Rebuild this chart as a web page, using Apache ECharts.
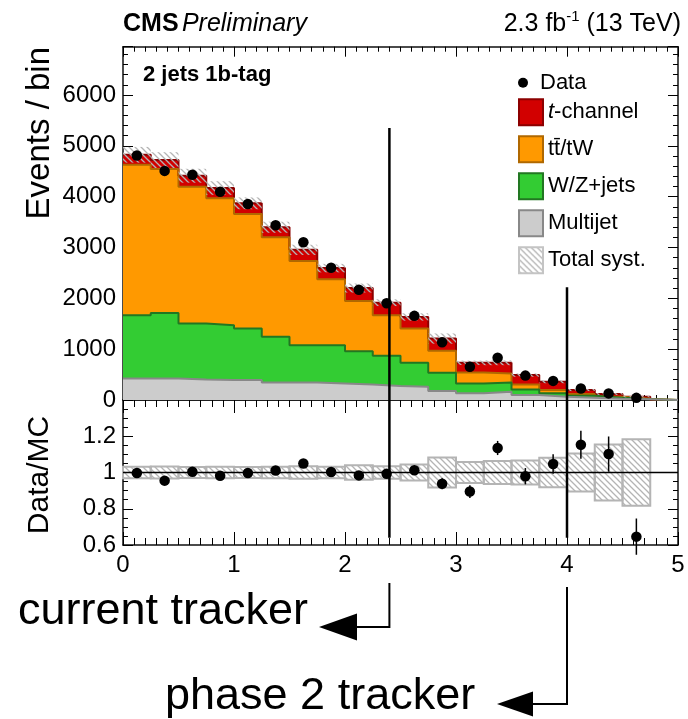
<!DOCTYPE html>
<html>
<head>
<meta charset="utf-8">
<script src="https://cdn.jsdelivr.net/npm/echarts@6/dist/echarts.min.js"></script>
<style>
  html, body { margin: 0; padding: 0; background: #fff; }
  #chart { width: 688px; height: 719px; }
</style>
</head>
<body>
<div id="chart"></div>
<script>
// |eta(j')| distribution, 2 jets 1 b-tag category, with Data/MC ratio below.
const FONT = '"Liberation Sans", Arial, Helvetica, sans-serif';

// Lower bin edges (the last entry closes the final filled bin)
const binEdges = [0.00, 0.25, 0.50, 0.75, 1.00, 1.25, 1.50, 1.75, 2.00, 2.25,
                  2.50, 2.75, 3.00, 3.25, 3.50, 3.75, 4.00, 4.25, 4.50, 4.75];

// Expected events per bin for each process
const multijet = [425, 425, 405, 392, 392, 346, 342, 327, 307, 275,
                  261, 176, 131, 163, 98, 65, 46, 26, 13];
const wzJets   = [1242, 1287, 1098, 1079, 1013, 896, 736, 751, 654, 594,
                  471, 360, 196, 183, 111, 66, 39, 20, 3];
const ttbarTW  = [2960, 2831, 2693, 2496, 2255, 1961, 1654, 1295, 987, 798,
                  673, 431, 215, 177, 98, 65, 33, 19, 10];
const tChannel = [197, 176, 216, 203, 209, 196, 222, 222, 255, 248,
                  229, 242, 190, 209, 183, 163, 78, 53, 39];

// Observed events per bin
const dataCounts = [4810, 4507, 4430, 4095, 3857, 3436, 3102, 2603, 2168, 1902,
                    1655, 1134, 655, 831, 480, 376, 226, 130, 42];

// Relative total systematic uncertainty per bin
const systRel = [0.032, 0.033, 0.031, 0.032, 0.030, 0.032, 0.034, 0.032, 0.040, 0.035,
                 0.044, 0.083, 0.058, 0.064, 0.066, 0.081, 0.105, 0.154, 0.184];

// Statistical uncertainty on Data/MC per bin
const ratioErr = [0.015, 0.015, 0.015, 0.016, 0.016, 0.017, 0.019, 0.020, 0.021, 0.023,
                  0.025, 0.030, 0.035, 0.039, 0.045, 0.054, 0.077, 0.097, 0.100];

// Tracker acceptance boundaries in |eta|
const currentTrackerEta = 2.4;
const phase2TrackerEta = 4.0;

const legendNames = ['t-channel', 'tt\u0304/tW', 'W/Z+jets', 'Multijet', 'Total syst.'];

const nBins = dataCounts.length;
const binHigh = i => (i + 1 < binEdges.length ? binEdges[i + 1] : binEdges[i] + 0.25);
const binMid = i => (binEdges[i] + binHigh(i)) / 2;

// Running sums for the stacked histogram (bottom to top)
const cumMultijet = multijet.slice();
const cumWZ = cumMultijet.map((v, i) => v + wzJets[i]);
const cumTT = cumWZ.map((v, i) => v + ttbarTW[i]);
const cumTop = cumTT.map((v, i) => v + tChannel[i]);
const mcTotal = cumTop;

// Diagonal hatching used for the systematic band
function makeHatch(color) {
  const c = document.createElement('canvas');
  c.width = 6; c.height = 6;
  const g = c.getContext('2d');
  g.strokeStyle = color;
  g.lineWidth = 1.3;
  g.beginPath();
  g.moveTo(-1, -1); g.lineTo(7, 7);
  g.moveTo(-1, 5); g.lineTo(1, 7);
  g.moveTo(5, -1); g.lineTo(7, 1);
  g.stroke();
  return { image: c, repeat: 'repeat' };
}
const hatchFill = makeHatch('#b4b4b4');

function stepData(vals) {
  const pts = vals.map((v, i) => [binEdges[i], v]);
  pts.push([binHigh(nBins - 1), 0]);
  pts.push([5, 0]);
  return pts;
}

// Each layer is filled down to zero; higher layers are drawn first
function layerSeries(name, cumVals, fill, edge, z) {
  return {
    type: 'line', name, step: 'end',
    xAxisIndex: 0, yAxisIndex: 0, z,
    symbol: 'none', silent: true,
    lineStyle: { color: edge, width: 2 },
    areaStyle: { color: fill, opacity: 1, origin: 'start' },
    data: stepData(cumVals)
  };
}

function boxRender(stroke) {
  return (params, api) => {
    const a = api.coord([api.value(0), api.value(3)]);
    const b = api.coord([api.value(1), api.value(2)]);
    const style = { fill: hatchFill };
    if (stroke) { style.stroke = stroke; style.lineWidth = 2; }
    return {
      type: 'rect',
      shape: { x: a[0], y: a[1], width: b[0] - a[0], height: b[1] - a[1] },
      style
    };
  };
}

const tickStyle = { color: '#000', width: 1 };
function xAxisDef(gridIndex, position, showLabels, major, minor) {
  return {
    type: 'value', gridIndex, position, min: 0, max: 5, interval: 1,
    axisLine: { show: true, onZero: false, lineStyle: { color: '#111', width: 1.5 } },
    axisTick: { show: true, inside: true, length: major, lineStyle: tickStyle },
    minorTick: { show: true, splitNumber: 10, length: minor, lineStyle: tickStyle },
    splitLine: { show: false }, minorSplitLine: { show: false },
    axisLabel: { show: showLabels, color: '#000', fontFamily: FONT, fontSize: 24, margin: 8,
                 formatter: v => String(v) }
  };
}
function yAxisDef(gridIndex, position, showLabels, min, max, interval, minorSplit) {
  return {
    type: 'value', gridIndex, position, min, max, interval,
    axisLine: { show: true, onZero: false, lineStyle: { color: '#111', width: 1.5 } },
    axisTick: { show: true, inside: true, length: 10, lineStyle: tickStyle },
    minorTick: { show: true, splitNumber: minorSplit, length: 5, lineStyle: tickStyle },
    splitLine: { show: false }, minorSplitLine: { show: false },
    axisLabel: { show: showLabels, showMaxLabel: false, color: '#000', fontFamily: FONT, fontSize: 24, margin: 7,
                 formatter: v => String(+v.toFixed(2)) }
  };
}

const chart = echarts.init(document.getElementById('chart'), null, { renderer: 'canvas' });

const option = {
  animation: false,
  backgroundColor: '#fff',
  textStyle: { fontFamily: FONT },
  grid: [
    { left: 123, top: 46.7, width: 555, height: 353.3, outerBoundsMode: 'none' },
    { left: 123, top: 400, width: 555, height: 145, outerBoundsMode: 'none' }
  ],
  xAxis: [
    xAxisDef(0, 'bottom', false, 10, 5),
    xAxisDef(0, 'top', false, 10, 5),
    xAxisDef(1, 'bottom', true, 13, 7),
    xAxisDef(1, 'top', false, 13, 7)
  ],
  yAxis: [
    yAxisDef(0, 'left', true, 0, 6950, 1000, 5),
    yAxisDef(0, 'right', false, 0, 6950, 1000, 5),
    yAxisDef(1, 'left', true, 0.6, 1.4, 0.2, 4),
    yAxisDef(1, 'right', false, 0.6, 1.4, 0.2, 4)
  ],
  legend: [
    {
      selectedMode: false, orient: 'vertical', left: 518, top: 71.7,
      itemWidth: 24, itemHeight: 10, padding: 0,
      textStyle: { fontFamily: FONT, fontSize: 22, color: '#000' },
      data: [{ name: 'Data', icon: 'circle', itemStyle: { color: '#000', borderWidth: 0, opacity: 1 } }]
    },
    {
      selectedMode: false, orient: 'vertical', left: 518, top: 98.3,
      itemWidth: 24, itemHeight: 26, itemGap: 9, padding: 0,
      textStyle: {
        fontFamily: FONT, fontSize: 22, color: '#000',
        rich: { it: { fontFamily: FONT, fontSize: 22, fontStyle: 'italic', color: '#000' } }
      },
      formatter: name => (name === 't-channel' ? '{it|t}-channel' : name),
      data: [
        { name: legendNames[0], icon: 'rect', itemStyle: { color: '#d20000', borderColor: '#8c0000', borderWidth: 2 } },
        { name: legendNames[1], icon: 'rect', itemStyle: { color: '#ff9900', borderColor: '#b06800', borderWidth: 2 } },
        { name: legendNames[2], icon: 'rect', itemStyle: { color: '#33cc33', borderColor: '#227722', borderWidth: 2 } },
        { name: legendNames[3], icon: 'rect', itemStyle: { color: '#cccccc', borderColor: '#888888', borderWidth: 2 } },
        { name: legendNames[4], icon: 'rect', itemStyle: { color: hatchFill, borderColor: '#c4c4c4', borderWidth: 2 } }
      ]
    }
  ],
  series: [
    // Stacked expectation: top layer first so lower layers paint over it
    layerSeries('t-channel', cumTop, '#d20000', '#8c0000', 1),
    layerSeries('tt\u0304/tW', cumTT, '#ff9900', '#b06800', 1),
    layerSeries('W/Z+jets', cumWZ, '#33cc33', '#227722', 1),
    layerSeries('Multijet', cumMultijet, '#cccccc', '#888888', 1),
    // Systematic band around the total expectation
    {
      type: 'custom', name: 'Total syst.', xAxisIndex: 0, yAxisIndex: 0, z: 3, silent: true,
      renderItem: boxRender(null),
      encode: { x: [0, 1], y: [2, 3] },
      data: mcTotal.map((m, i) => [binEdges[i], binHigh(i), m * (1 - systRel[i]), m * (1 + systRel[i])])
    },
    // Tracker boundaries, upper panel
    {
      type: 'line', name: 'trkTop1', xAxisIndex: 0, yAxisIndex: 0, z: 4, symbol: 'none', silent: true,
      lineStyle: { color: '#000', width: 2.5 },
      data: [[currentTrackerEta, 5350], [currentTrackerEta, 0]]
    },
    {
      type: 'line', name: 'trkTop2', xAxisIndex: 0, yAxisIndex: 0, z: 4, symbol: 'none', silent: true,
      lineStyle: { color: '#000', width: 2.5 },
      data: [[phase2TrackerEta, 2220], [phase2TrackerEta, 0]]
    },
    // Data points
    {
      type: 'scatter', name: 'Data', xAxisIndex: 0, yAxisIndex: 0, z: 6, silent: true,
      symbol: 'circle', symbolSize: 10.5, itemStyle: { color: '#000', opacity: 1 },
      data: dataCounts.map((d, i) => [binMid(i), d])
    },
    // Ratio panel: systematic boxes
    {
      type: 'custom', name: 'Total syst. ratio', xAxisIndex: 2, yAxisIndex: 2, z: 2, silent: true,
      renderItem: boxRender('#b4b4b4'),
      encode: { x: [0, 1], y: [2, 3] },
      data: systRel.map((s, i) => [binEdges[i], binHigh(i), 1 - s, 1 + s])
    },
    // Unity line
    {
      type: 'line', name: 'unity', xAxisIndex: 2, yAxisIndex: 2, z: 3, symbol: 'none', silent: true,
      lineStyle: { color: '#000', width: 1.5 },
      data: [[0, 1], [5, 1]]
    },
    // Data/MC error bars
    {
      type: 'custom', name: 'ratioErr', xAxisIndex: 2, yAxisIndex: 2, z: 4, silent: true,
      renderItem: (params, api) => {
        const a = api.coord([api.value(0), api.value(1) + api.value(2)]);
        const b = api.coord([api.value(0), api.value(1) - api.value(2)]);
        return { type: 'line', shape: { x1: a[0], y1: a[1], x2: b[0], y2: b[1] }, style: { stroke: '#000', lineWidth: 1.5 } };
      },
      encode: { x: 0, y: [1] },
      data: dataCounts.map((d, i) => [binMid(i), d / mcTotal[i], ratioErr[i]])
    },
    {
      type: 'scatter', name: 'Data/MC', xAxisIndex: 2, yAxisIndex: 2, z: 6, silent: true,
      symbol: 'circle', symbolSize: 10.5, itemStyle: { color: '#000', opacity: 1 },
      data: dataCounts.map((d, i) => [binMid(i), d / mcTotal[i]])
    },
    // Tracker boundaries, ratio panel
    {
      type: 'line', name: 'trkBot1', xAxisIndex: 2, yAxisIndex: 2, z: 5, symbol: 'none', silent: true,
      lineStyle: { color: '#000', width: 2.5 },
      data: [[currentTrackerEta, 1.4], [currentTrackerEta, 0.64]]
    },
    {
      type: 'line', name: 'trkBot2', xAxisIndex: 2, yAxisIndex: 2, z: 5, symbol: 'none', silent: true,
      lineStyle: { color: '#000', width: 2.5 },
      data: [[phase2TrackerEta, 1.4], [phase2TrackerEta, 0.64]]
    }
  ]
};

chart.setOption(option);

// Text and annotation overlay, anchored to the axis scale
const xCur = chart.convertToPixel({ xAxisIndex: 2 }, currentTrackerEta);
const xPh2 = chart.convertToPixel({ xAxisIndex: 2 }, phase2TrackerEta);
const black = { stroke: '#000', lineWidth: 2, fill: null };

chart.setOption({
  graphic: [
    {
      type: 'text', x: 123, y: 24,
      style: {
        text: '{b|CMS} {i|Preliminary}', verticalAlign: 'middle', fill: '#000',
        rich: {
          b: { font: 'bold 25px ' + FONT, fill: '#000' },
          i: { font: 'italic 25px ' + FONT, fill: '#000' }
        }
      }
    },
    {
      type: 'text', x: 681, y: 24,
      style: {
        text: '{n|2.3 fb}{s|-1}{n| (13 TeV)}', align: 'right', verticalAlign: 'middle', fill: '#000',
        rich: {
          n: { font: '25px ' + FONT, fill: '#000', lineHeight: 30 },
          s: { font: '15px ' + FONT, fill: '#000', verticalAlign: 'top', lineHeight: 16 }
        }
      }
    },
    {
      type: 'text', x: 143, y: 75,
      style: { text: '2 jets 1b-tag', font: 'bold 22px ' + FONT, fill: '#000', verticalAlign: 'middle' }
    },
    {
      type: 'text', x: 40, y: 47, rotation: Math.PI / 2,
      style: { text: 'Events / bin', font: '33px ' + FONT, fill: '#000', align: 'right', verticalAlign: 'middle' }
    },
    {
      type: 'text', x: 40, y: 475, rotation: Math.PI / 2,
      style: { text: 'Data/MC', font: '30px ' + FONT, fill: '#000', align: 'center', verticalAlign: 'middle' }
    },
    {
      type: 'text', x: 682, y: 593, scaleX: 0.72, originX: 682,
      style: { text: '|\u03B7(j\u2032)|', font: '28px ' + FONT, fill: '#000', align: 'right', verticalAlign: 'middle' }
    },
    // current tracker arrow
    { type: 'polyline', shape: { points: [[xCur, 583], [xCur, 627], [355, 627]] }, style: black },
    { type: 'polygon', shape: { points: [[319, 627], [357, 613.5], [357, 640.5]] }, style: { fill: '#000' } },
    {
      type: 'text', x: 18, y: 612,
      style: { text: 'current tracker', font: '45px ' + FONT, fill: '#000', verticalAlign: 'middle' }
    },
    // phase 2 tracker arrow
    { type: 'polyline', shape: { points: [[xPh2, 587], [xPh2, 704], [531, 704]] }, style: black },
    { type: 'polygon', shape: { points: [[497, 704], [533, 691.5], [533, 716.5]] }, style: { fill: '#000' } },
    {
      type: 'text', x: 165, y: 697,
      style: { text: 'phase 2 tracker', font: '45px ' + FONT, fill: '#000', verticalAlign: 'middle' }
    }
  ]
});
</script>
</body>
</html>
